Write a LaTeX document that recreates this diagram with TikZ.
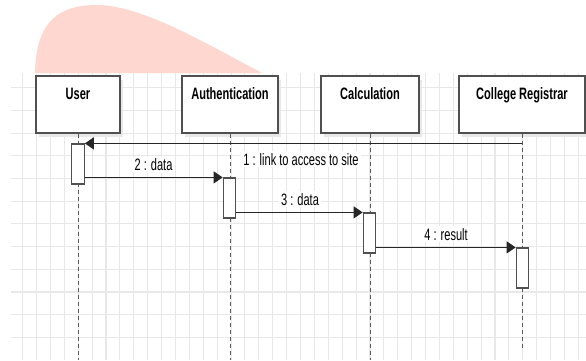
\documentclass[tikz,border=0pt]{standalone}
\usepackage{fontspec}
\setmainfont[FakeStretch=0.67]{Liberation Sans}
\usetikzlibrary{arrows.meta,shadows}
\definecolor{pinkshape}{RGB}{254,215,208}
\definecolor{gridc}{RGB}{232,232,232}
\definecolor{edgec}{RGB}{80,80,80}
\definecolor{lifec}{RGB}{90,90,90}
\begin{document}
\begin{tikzpicture}[x=1pt,y=-1pt,
  gridline/.style={draw=gridc,line width=1.1pt},
  actor/.style={draw=edgec,line width=1.4pt,fill=white,
    drop shadow={shadow xshift=3pt,shadow yshift=-4pt,fill=black!9,opacity=1}},
  boxlbl/.style={anchor=base,inner sep=0pt,font=\fontsize{16.5}{18}\selectfont\bfseries},
  life/.style={draw=lifec,line width=1pt,dash pattern=on 4pt off 3pt},
  act/.style={draw=edgec,line width=1.2pt,fill=white,minimum width=12.5pt,minimum height=40pt,inner sep=0pt},
  msg/.style={draw=black!85,line width=1.2pt,-{Triangle[length=9pt,width=12pt]}},
  mlbl/.style={anchor=base,fill=white,inner xsep=2pt,inner ysep=2pt,font=\fontsize{16.5}{18}\selectfont}]
\useasboundingbox (0,0) rectangle (586,360);
\fill[white] (0,0) rectangle (586,360);
% pink shape
\fill[pinkshape] (35,73) .. controls (36,20) and (60,5) .. (97,5) .. controls (140,5) and (200,40) .. (262,73) -- cycle;
% grid
\foreach \i in {0,...,40} {\draw[gridline] ({22.7+13.89*\i},73) -- ({22.7+13.89*\i},360);}
\foreach \j in {0,...,11} {\draw[gridline] (11,{87.7+22.7*\j}) -- (586,{87.7+22.7*\j});}
% actors
\node[actor,minimum width=84pt,minimum height=57pt] (user) at (78,104.5) {};
\node[actor,minimum width=96pt,minimum height=57pt] (auth) at (230,104.5) {};
\node[actor,minimum width=98pt,minimum height=57pt] (calc) at (370,104.5) {};
\node[actor,minimum width=126pt,minimum height=57pt] (reg) at (522,104.5) {};
\node[boxlbl] (userL) at (78,99) {User};
\node[boxlbl] (authL) at (230,99) {Authentication};
\node[boxlbl] (calcL) at (370,99) {Calculation};
\node[boxlbl] (regL) at (522,99) {College Registrar};
% lifelines
\coordinate (userE) at (78,360);
\coordinate (authE) at (230,360);
\coordinate (calcE) at (370,360);
\coordinate (regE) at (522,348);
\draw[life] (user.south) -- (userE);
\draw[life] (auth.south) -- (authE);
\draw[life] (calc.south) -- (calcE);
\draw[life] (reg.south) -- (regE);
% activations
\node[act] (uact) at (78,164) {};
\node[act] (aact) at (229.5,198) {};
\node[act] (cact) at (369.5,233) {};
\node[act] (ract) at (522.5,268) {};
% messages
\draw[msg] (uact.north east -| reg.south) -- (uact.north east);
\draw[msg] (aact.north west -| uact.east) -- (aact.north west);
\draw[msg] (cact.north west -| aact.east) -- (cact.north west);
\draw[msg] (ract.north west -| cact.east) -- (ract.north west);
% labels
\node[mlbl] (m1) at (301,165) {1 : link to access to site};
\node[mlbl] (m2) at (153.5,170.7) {2 : data};
\node[mlbl] (m3) at (300,205) {3 : data};
\node[mlbl] (m4) at (446,240) {4 : result};
\end{tikzpicture}
\end{document}
